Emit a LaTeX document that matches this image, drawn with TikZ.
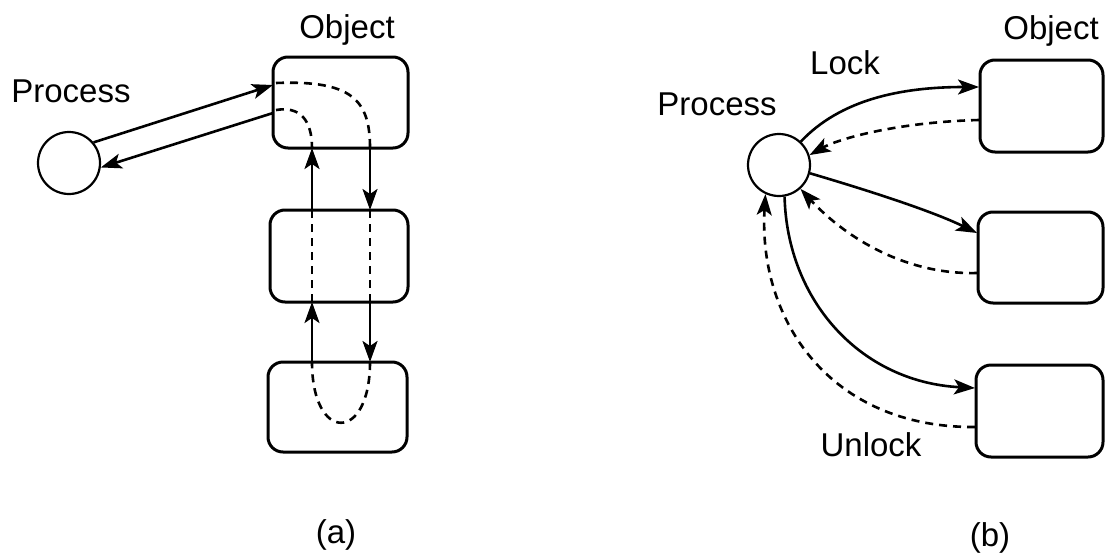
\documentclass[tikz,border=0pt]{standalone}
\usepackage{fontspec}
\setmainfont{Liberation Sans}
\usetikzlibrary{arrows.meta}
\tikzset{
  lbl/.style={font=\fontsize{33}{40}\selectfont, inner sep=0pt, anchor=base},
  objbox/.style={draw, line width=3pt, rounded corners=15pt},
  proc/.style={draw, circle, line width=2.2pt, minimum size=62pt, inner sep=0pt},
  tip/.style={-{Stealth[length=21pt,width=15pt,inset=5pt]}},
  arr/.style={line width=2.6pt, tip},
  darr/.style={line width=2.6pt, dash pattern=on 8pt off 6pt, tip},
  dline/.style={line width=2.6pt, dash pattern=on 8pt off 6pt},
}
\begin{document}
\begin{tikzpicture}[x=1pt,y=-1pt]
\useasboundingbox (0,0) rectangle (1105,554);

% ---------------- (a) ----------------
\node[proc] (ca) at (69,163) {};
\node[lbl] (pa) at (71,102) {Process};
\node[lbl] (oa) at (347,38) {Object};
\node[lbl] (la) at (336,543) {(a)};

\draw[objbox] (273,57) rectangle (408,148);
\draw[objbox] (270,210) rectangle (408,302);
\draw[objbox] (268,362) rectangle (407,452);

\coordinate (ta-in)  at (273,85);
\coordinate (ta-out) at (273,113);
\coordinate (taR) at (370,148);
\coordinate (taL) at (312,148);
\coordinate (maRt) at (370,210);
\coordinate (maRb) at (370,302);
\coordinate (maLt) at (312,210);
\coordinate (maLb) at (312,302);
\coordinate (baR) at (370,362);
\coordinate (baL) at (312,362);

\draw[arr] (ca.40) -- (ta-in);
\draw[arr] (ta-out) -- (ca.-8);

\draw[dline] (276,83) .. controls (352,80) and (370,100) .. (taR);
\draw[dline] (276,110) .. controls (300,106) and (312,120) .. (taL);

\draw[arr] (taR) -- (maRt);
\draw[dline] (maRt) -- (maRb);
\draw[arr] (maRb) -- (baR);
\draw[dline] (baR) .. controls (370,443) and (312,443) .. (baL);
\draw[arr] (baL) -- (maLb);
\draw[dline] (maLb) -- (maLt);
\draw[arr] (maLt) -- (taL);

% ---------------- (b) ----------------
\node[proc] (cb) at (779,165) {};
\node[lbl] (pb) at (717,115) {Process};
\node[lbl] (ob) at (1051,39) {Object};
\node[lbl] (lk) at (845,74) {Lock};
\node[lbl] (ul) at (871,456) {Unlock};
\node[lbl] (lb) at (990,546) {(b)};

\draw[objbox] (980,60) rectangle (1103,152);
\draw[objbox] (978,212) rectangle (1103,303);
\draw[objbox] (976,365) rectangle (1103,457);

\coordinate (tb-in)  at (979,87);
\coordinate (tb-out) at (979,120);
\coordinate (mb-in)  at (977,233);
\coordinate (mb-out) at (977,273);
\coordinate (bb-in)  at (975,388);
\coordinate (bb-out) at (975,427);

\draw[arr] (cb.47) .. controls (840,100) and (900,87) .. (tb-in);
\draw[darr] (tb-out) .. controls (900,122) and (840,138) .. (cb.18);
\draw[arr] (cb.-15) .. controls (860,188) and (930,210) .. (mb-in);
\draw[darr] (mb-out) .. controls (900,275) and (840,232) .. (cb.-48);
\draw[arr] (cb.-80) .. controls (787,300) and (860,382) .. (bb-in);
\draw[darr] (bb-out) .. controls (830,428) and (758,320) .. (cb.-115);
\end{tikzpicture}
\end{document}
